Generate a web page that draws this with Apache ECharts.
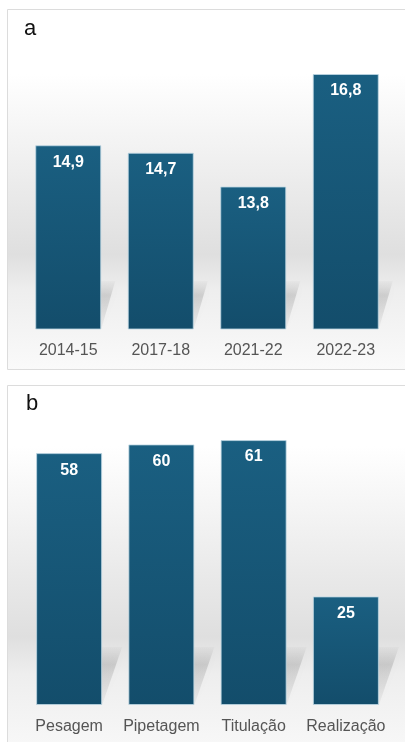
<!DOCTYPE html>
<html>
<head>
<meta charset="utf-8">
<script src="https://cdn.jsdelivr.net/npm/echarts@6/dist/echarts.min.js"></script>
<style>
html, body { margin: 0; padding: 0; background: #fff; }
#chart { width: 405px; height: 742px; }
</style>
</head>
<body>
<div id="chart"></div>
<script>
// painel a
const periodos = ['2014-15', '2017-18', '2021-22', '2022-23'];
const valoresA = [14.9, 14.7, 13.8, 16.8];
// painel b
const etapas = ['Pesagem', 'Pipetagem', 'Titulação', 'Realização'];
const valoresB = [58, 60, 61, 25];

const cor = {
    bar: ['#1a5f81', '#134d6b'],
    label: '#555555',
    border: '#dcdcdc',
};
const fonte = '"Liberation Sans", Arial, sans-serif';
const minA = 10;
const minB = 0;

const barGradient = function () {
    return new echarts.graphic.LinearGradient(0, 0, 0, 1, [
        { offset: 0, color: cor.bar[0] },
        { offset: 1, color: cor.bar[1] },
    ]);
}

const panelFill = function (band) {
    return new echarts.graphic.LinearGradient(0, 0, 0, 1, [
        { offset: 0, color: '#ffffff' },
        { offset: band - 0.5, color: '#ffffff' },
        { offset: band, color: '#dfdfdf' },
        { offset: band + 0.1, color: '#eeeeee' },
        { offset: 1, color: '#fafafa' },
    ]);
}

// sombra "chão" atrás de cada barra
const makeShadow = function (axisMin, dx, h) {
    return function (params, api) {
        const base = api.coord([api.value(0), axisMin]);
        const half = 33;
        const x0 = base[0] - half, x1 = base[0] + half, yb = base[1];
        return {
            type: 'polygon',
            shape: {
                points: [[x0, yb], [x1, yb], [x1 + dx, yb - h], [x0 + dx, yb - h]],
            },
            style: {
                fill: new echarts.graphic.LinearGradient(0, 0, 0, 1, [
                    { offset: 0, color: 'rgba(0,0,0,0.02)' },
                    { offset: 0.3, color: 'rgba(0,0,0,0.13)' },
                    { offset: 1, color: 'rgba(0,0,0,0.03)' },
                ]),
                shadowBlur: 8,
                shadowColor: 'rgba(0,0,0,0.15)',
            },
        };
    }
}

const barSeries = function (idx, data, fmt) {
    return {
        type: 'bar',
        xAxisIndex: idx,
        yAxisIndex: idx,
        data: data,
        barWidth: 66,
        z: 3,
        itemStyle: {
            color: barGradient(),
            borderColor: 'rgba(190,215,228,0.8)',
            borderWidth: 1,
        },
        label: {
            show: true,
            position: 'insideTop',
            distance: 9,
            color: '#ffffff',
            fontFamily: fonte,
            fontWeight: 'bold',
            fontSize: 16,
            formatter: fmt,
        },
    }
}

const catAxis = function (idx, data) {
    return {
        type: 'category',
        gridIndex: idx,
        data: data,
        axisLine: { show: false },
        axisTick: { show: false },
        axisLabel: {
            interval: 0,
            color: cor.label,
            fontFamily: fonte,
            fontSize: 16,
            margin: 14,
        },
    }
}

const valAxis = function (idx, min, max) {
    return {
        type: 'value',
        gridIndex: idx,
        min: min,
        max: max,
        show: false,
        splitLine: { show: false },
    }
}

const chart = echarts.init(document.getElementById('chart'));
chart.setOption({
    animation: false,
    backgroundColor: '#ffffff',
    graphic: [
        {
            type: 'rect', z: -10, silent: true,
            shape: { x: 7.5, y: 9.5, width: 420, height: 360 },
            style: { fill: panelFill(0.68), stroke: cor.border, lineWidth: 1 },
        },
        {
            type: 'rect', z: -10, silent: true,
            shape: { x: 7.5, y: 385.5, width: 420, height: 380 },
            style: { fill: panelFill(0.66), stroke: cor.border, lineWidth: 1 },
        },
        {
            type: 'text', left: 24, top: 18,
            style: { text: 'a', fill: '#111', font: '22px ' + fonte },
        },
        {
            type: 'text', left: 26, top: 393,
            style: { text: 'b', fill: '#111', font: '22px ' + fonte },
        },
    ],
    grid: [
        { left: 22, right: 13, top: 29, height: 300 },
        { left: 23, right: 13, top: 401, height: 304 },
    ],
    xAxis: [catAxis(0, periodos), catAxis(1, etapas)],
    yAxis: [valAxis(0, minA, 18), valAxis(1, minB, 70)],
    series: [
        {
            type: 'custom', xAxisIndex: 0, yAxisIndex: 0, z: 1, silent: true,
            renderItem: makeShadow(minA, 14, 48),
            data: valoresA.map((v, i) => [i, v]),
        },
        {
            type: 'custom', xAxisIndex: 1, yAxisIndex: 1, z: 1, silent: true,
            renderItem: makeShadow(minB, 20, 58),
            data: valoresB.map((v, i) => [i, v]),
        },
        barSeries(0, valoresA, p => p.value.toFixed(1).replace('.', ',')),
        barSeries(1, valoresB, p => String(p.value)),
    ],
});
</script>
</body>
</html>
